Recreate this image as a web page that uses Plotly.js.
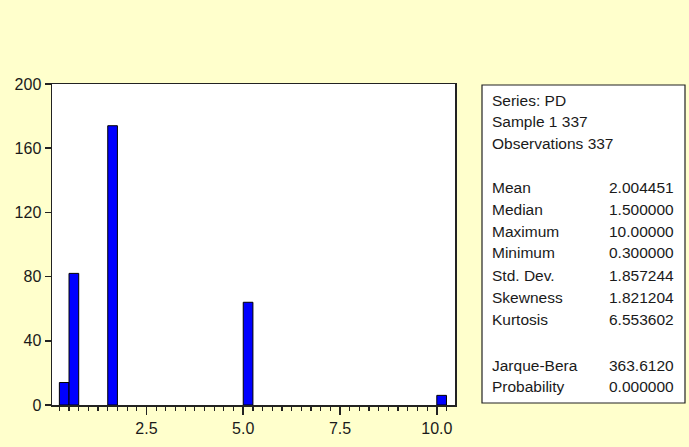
<!DOCTYPE html>
<html>
<head>
<meta charset="utf-8">
<script src="https://cdn.plot.ly/plotly-3.0.1.min.js"></script>
<style>html,body{margin:0;padding:0;background:#FFFFCC;}#chart{width:689px;height:447px;}</style>
</head>
<body>
<div id="chart"></div>
<script>
// Histogram bins (left edges), bin width and counts
const binLeft = [0.25, 0.5, 1.5, 5.0, 10.0];
const binWidth = 0.25;
const counts = [14, 82, 174, 64, 6];

// Statistics panel
const headerLines = ["Series: PD", "Sample 1 337", "Observations 337"];
const statNames = ["Mean", "Median", "Maximum", "Minimum", "Std. Dev.", "Skewness", "Kurtosis"];
const statValues = ["2.004451", "1.500000", "10.00000", "0.300000", "1.857244", "1.821204", "6.553602"];
const testNames = ["Jarque-Bera", "Probability"];
const testValues = ["363.6120", "0.000000"];

const yTicks = [0, 40, 80, 120, 160, 200];
const xTicks = [2.5, 5.0, 7.5, 10.0];
const xTickText = ["2.5", "5.0", "7.5", "10.0"];

const W = 689, H = 447;
const mL = 52, mR = 234, mT = 84, mB = 42;
const pw = W - mL - mR, ph = H - mT - mB;
function px(x) { return (x - mL) / pw; }
function py(y) { return (H - mB - y) / ph; }

const centers = binLeft.map(b => b + binWidth / 2);

const trace = {
  type: 'bar',
  x: centers,
  y: counts,
  width: binWidth,
  marker: { color: '#0000FF', line: { color: '#000000', width: 1 } },
  hoverinfo: 'x+y'
};

const annotations = [];
const font = { family: 'Liberation Sans, Arial, sans-serif', size: 15.5, color: '#1a1a1a' };
const textLeft = 490, textRight = 676;
headerLines.forEach((t, i) => {
  annotations.push({ xref: 'paper', yref: 'paper', x: px(textLeft), y: py(100 + i * 21.5),
    text: t, showarrow: false, xanchor: 'left', yanchor: 'middle', font: font });
});
statNames.forEach((t, i) => {
  const yy = py(187 + i * 22);
  annotations.push({ xref: 'paper', yref: 'paper', x: px(textLeft), y: yy,
    text: t, showarrow: false, xanchor: 'left', yanchor: 'middle', font: font });
  annotations.push({ xref: 'paper', yref: 'paper', x: px(textRight), y: yy,
    text: statValues[i], showarrow: false, xanchor: 'right', yanchor: 'middle', font: font });
});
testNames.forEach((t, i) => {
  const yy = py(365 + i * 21.5);
  annotations.push({ xref: 'paper', yref: 'paper', x: px(textLeft), y: yy,
    text: t, showarrow: false, xanchor: 'left', yanchor: 'middle', font: font });
  annotations.push({ xref: 'paper', yref: 'paper', x: px(textRight), y: yy,
    text: testValues[i], showarrow: false, xanchor: 'right', yanchor: 'middle', font: font });
});

const tickFont = { family: 'Liberation Sans, Arial, sans-serif', size: 16, color: '#1a1a1a' };

const layout = {
  width: W, height: H,
  margin: { l: mL, r: mR, t: mT, b: mB, pad: 0 },
  paper_bgcolor: '#FFFFCC',
  plot_bgcolor: '#FFFFFF',
  showlegend: false,
  bargap: 0,
  xaxis: {
    range: [0.06, 10.47],
    tickvals: xTicks, ticktext: xTickText,
    ticks: 'outside', ticklen: 8, tickwidth: 1.5, tickcolor: '#222',
    minor: { dtick: 0.25, tick0: 0, ticks: 'outside', ticklen: 4, tickwidth: 1.2, tickcolor: '#222' },
    showgrid: false, zeroline: false,
    showline: true, linecolor: '#222', linewidth: 1.5, mirror: true,
    tickfont: tickFont
  },
  yaxis: {
    range: [0, 200],
    tickvals: yTicks,
    ticks: 'outside', ticklen: 6, tickwidth: 1.5, tickcolor: '#222',
    showgrid: false, zeroline: false,
    showline: true, linecolor: '#222', linewidth: 1.5, mirror: true,
    tickfont: tickFont
  },
  shapes: [{
    type: 'rect', xref: 'paper', yref: 'paper',
    x0: px(482), x1: px(685), y0: py(85), y1: py(403),
    fillcolor: '#FFFFFF', line: { color: '#222', width: 1.2 }
  }],
  annotations: annotations
};

Plotly.newPlot('chart', [trace], layout, { displayModeBar: false, staticPlot: true });
</script>
</body>
</html>
